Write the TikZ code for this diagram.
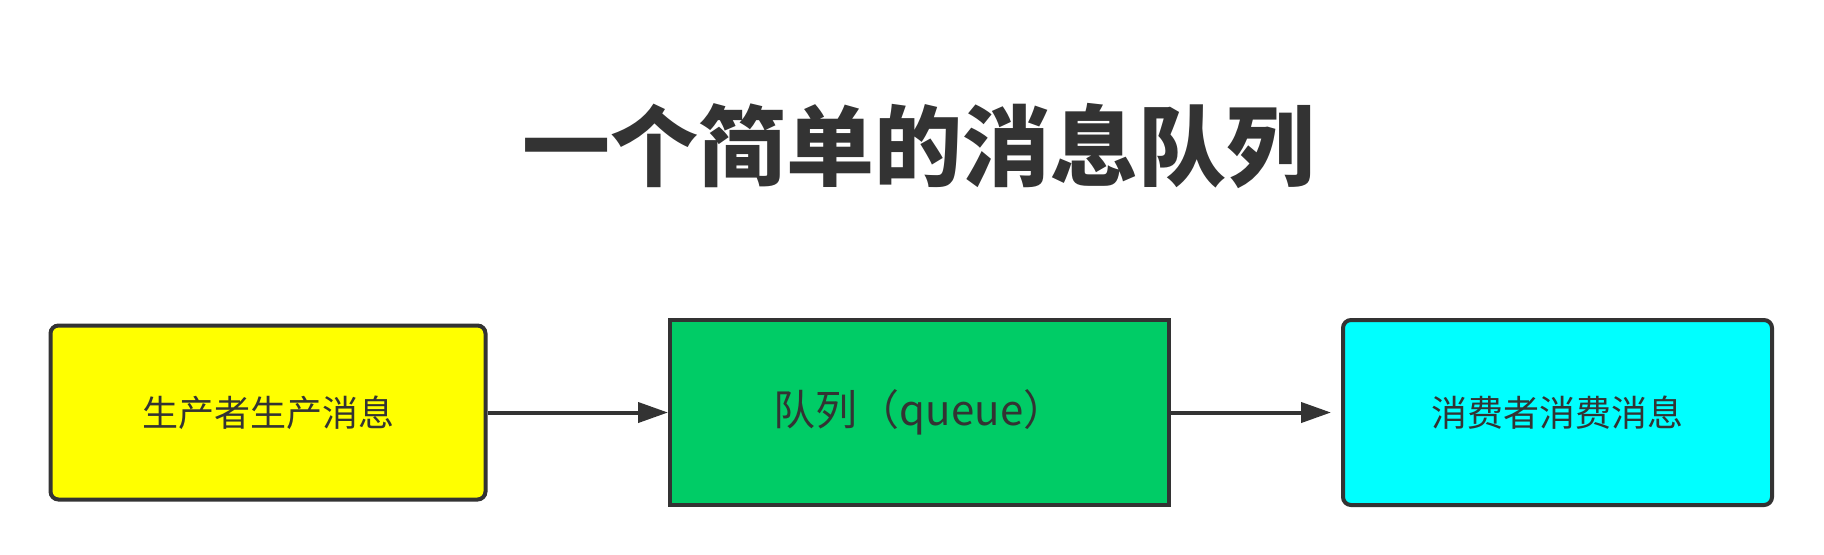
\documentclass[tikz,border=0pt]{standalone}
\usepackage{fontspec}
\setmainfont{Noto Sans CJK SC}
\usepackage{xcolor}
\usetikzlibrary{arrows.meta}
\definecolor{ink}{HTML}{333333}
\definecolor{prodfill}{HTML}{FFFF00}
\definecolor{queuefill}{HTML}{00CC66}
\definecolor{consfill}{HTML}{00FFFF}

\begin{document}
\begin{tikzpicture}[x=0.5pt,y=-0.5pt,
    box/.style={draw=ink, line width=2pt, text=ink, inner sep=0pt},
    flow/.style={draw=ink, line width=2pt, -{Triangle[length=15pt,width=10pt]}}]
    \useasboundingbox (0,0) rectangle (1824,554);

    \node[text=ink, font=\bfseries\fontsize{44}{52}\selectfont] (T) at (918,146) {一个简单的消息队列};

    \node[box, fill=prodfill, rounded corners=4pt, minimum width=217.5pt, minimum height=87pt, font=\fontsize{18}{22}\selectfont] (P) at (268,412.5) {生产者生产消息};
    \node[box, fill=queuefill, minimum width=249.5pt, minimum height=92.5pt, font=\fontsize{21}{25}\selectfont] (Q) at (919.5,412.5) {队列（queue）\hspace{16pt}};
    \node[box, fill=consfill, rounded corners=4pt, minimum width=214.5pt, minimum height=92.5pt, font=\fontsize{18}{22}\selectfont] (C) at (1557.5,412.5) {消费者消费消息};

    \draw[flow] (P) -- (Q);
    \draw[flow, shorten >=5pt] (Q) -- (C);
\end{tikzpicture}
\end{document}
